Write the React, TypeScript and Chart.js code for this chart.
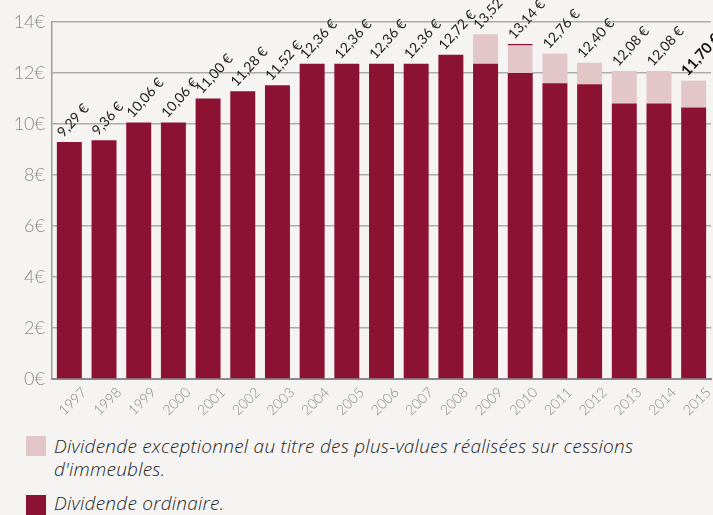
import React, { useEffect, useRef } from "react";
import { Chart, registerables } from "chart.js";

Chart.register(...registerables);

const years = ["1997", "1998", "1999", "2000", "2001", "2002", "2003", "2004", "2005", "2006", "2007", "2008", "2009", "2010", "2011", "2012", "2013", "2014", "2015"];
const ordinary = [9.29, 9.36, 10.06, 10.06, 11.0, 11.28, 11.52, 12.36, 12.36, 12.36, 12.36, 12.72, 12.36, 12.0, 11.6, 11.56, 10.8, 10.8, 10.65];
const exceptional = [0, 0, 0, 0, 0, 0, 0, 0, 0, 0, 0, 0, 1.16, 1.14, 1.16, 0.84, 1.28, 1.28, 1.05];
const totalLabels = ["9,29 €", "9,36 €", "10,06 €", "10,06 €", "11,00 €", "11,28 €", "11,52 €", "12,36 €", "12,36 €", "12,36 €", "12,36 €", "12,72 €", "13,52 €", "13,14 €", "12,76 €", "12,40 €", "12,08 €", "12,08 €", "11,70 €"];
const yMin = 0;
const yMax = 14;
const yStep = 2;
const legendExceptionalLine1 = "Dividende exceptionnel au titre des plus-values réalisées sur cessions";
const legendExceptionalLine2 = "d'immeubles.";
const legendOrdinary = "Dividende ordinaire.";

const DARK = "#8b1233";
const PINK = "#e3c6c7";
const BG = "#f5f4f2";
const FONT = "Lato, 'Open Sans', sans-serif";
const LEGEND_FONT = "'Open Sans', Lato, sans-serif";

const CANVAS_H = 430;
const PLOT_TOP = 22;
const PLOT_BOTTOM = 379;
const PLOT_LEFT = 52;

const labelsPlugin = {
  id: "customLabels",
  afterDatasetsDraw(chart: any) {
    const ctx = chart.ctx;
    const meta = chart.getDatasetMeta(0);
    const y = chart.scales.y;
    const angle = (-48 * Math.PI) / 180;
    meta.data.forEach((bar: any, i: number) => {
      // value labels above the bars
      const total = ordinary[i] + exceptional[i];
      const top = y.getPixelForValue(total);
      const last = i === years.length - 1;
      ctx.save();
      ctx.translate(bar.x - 6, top - 4);
      ctx.rotate(angle);
      ctx.font = last ? `bold 15px ${FONT}` : `14px ${FONT}`;
      ctx.fillStyle = last ? "#111" : "#222";
      ctx.textAlign = "left";
      ctx.textBaseline = "alphabetic";
      ctx.fillText(totalLabels[i], 0, 0);
      ctx.restore();

      // category labels under the axis
      ctx.save();
      ctx.translate(bar.x + 10, PLOT_BOTTOM + 6);
      ctx.rotate((-45 * Math.PI) / 180);
      ctx.font = `300 14px ${FONT}`;
      ctx.fillStyle = "#8a8a8a";
      ctx.textAlign = "right";
      ctx.textBaseline = "top";
      ctx.fillText(years[i], 0, 0);
      ctx.restore();
    });
  },
};

function BarChart() {
  const ref = useRef<HTMLCanvasElement | null>(null);
  useEffect(() => {
    if (!ref.current) return;
    const chart = new Chart(ref.current, {
      type: "bar",
      data: {
        labels: years,
        datasets: [
          {
            label: "Dividende ordinaire.",
            data: ordinary,
            backgroundColor: DARK,
            borderWidth: 0,
            categoryPercentage: 0.8,
            barPercentage: 0.9,
          },
          {
            label: "Dividende exceptionnel",
            data: exceptional,
            backgroundColor: PINK,
            borderColor: DARK,
            borderSkipped: false,
            borderWidth: (c: any) => (years[c.dataIndex] === "2010" ? { top: 1.5, left: 0, right: 0, bottom: 0 } : 0),
            categoryPercentage: 0.8,
            barPercentage: 0.9,
          } as any,
        ],
      },
      options: {
        animation: false,
        responsive: true,
        maintainAspectRatio: false,
        layout: { padding: { top: PLOT_TOP, right: 2, left: 0, bottom: 0 } },
        plugins: {
          legend: { display: false },
          tooltip: { enabled: false },
        },
        scales: {
          x: {
            stacked: true,
            grid: { display: false },
            border: { display: true, color: "#8a8a8a", width: 2 },
            ticks: { display: false },
            afterFit: (s: any) => {
              s.height = CANVAS_H - PLOT_BOTTOM;
            },
          },
          y: {
            stacked: true,
            min: yMin,
            max: yMax,
            grid: { color: "#ababab", lineWidth: 1.5, drawTicks: false },
            border: { display: true, color: "#9a9a9a", width: 1.5 },
            ticks: {
              stepSize: yStep,
              color: "#8a8a8a",
              font: { family: FONT, size: 18, weight: "300" as any },
              padding: 7,
              callback: (v: any) => `${v}€`,
            },
            afterFit: (s: any) => {
              s.width = PLOT_LEFT;
            },
          },
        },
      },
      plugins: [labelsPlugin],
    });
    return () => chart.destroy();
  }, []);
  return (
    <div style={{ position: "absolute", left: 0, top: 0, width: 713, height: CANVAS_H }}>
      <canvas ref={ref} />
    </div>
  );
}

export default function App() {
  const textStyle: React.CSSProperties = {
    position: "absolute",
    left: 54,
    fontFamily: LEGEND_FONT,
    fontStyle: "italic",
    fontWeight: 300,
    fontSize: 19,
    letterSpacing: "0.25px",
    lineHeight: "23px",
    color: "#1e1e1e",
    width: 659,
    whiteSpace: "nowrap",
  };
  return (
    <div style={{ position: "fixed", left: 0, top: 0, width: 713, height: 515, background: BG, overflow: "hidden" }}>
      <BarChart />
      <div style={{ position: "absolute", left: 26, top: 436, width: 20, height: 20, background: PINK }} />
      <div style={{ ...textStyle, top: 435 }}>
        {legendExceptionalLine1}
        <br />
        {legendExceptionalLine2}
      </div>
      <div style={{ position: "absolute", left: 26, top: 495, width: 20, height: 20, background: DARK }} />
      <div style={{ ...textStyle, top: 492 }}>{legendOrdinary}</div>
    </div>
  );
}
